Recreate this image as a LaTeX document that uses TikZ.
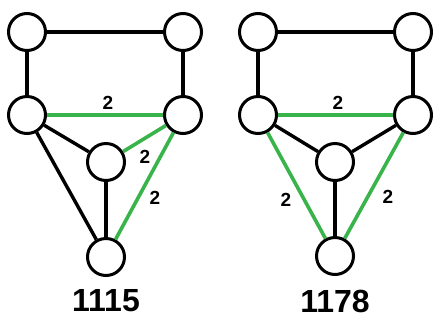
\documentclass[tikz,border=0pt]{standalone}
\usepackage{fontspec}
\setmainfont{Liberation Sans}
\definecolor{edgegreen}{RGB}{56,180,74}
\begin{document}
\begin{tikzpicture}[x=1pt,y=-1pt,
  vert/.style={circle,draw=black,line width=3pt,minimum size=37pt,inner sep=0pt,fill=white},
  blk/.style={draw=black,line width=3.4pt},
  grn/.style={draw=edgegreen,line width=3.6pt},
  wlab/.style={font=\bfseries\fontsize{19}{19}\selectfont,inner sep=0pt},
  glab/.style={font=\bfseries\fontsize{32}{32}\selectfont,inner sep=0pt}]
\useasboundingbox (0,0) rectangle (433,325);
% left graph
\node[vert] (a1) at (27,32) {};
\node[vert] (a2) at (183,32) {};
\node[vert] (a3) at (27,115) {};
\node[vert] (a4) at (183,115) {};
\node[vert] (a5) at (106,162) {};
\node[vert] (a6) at (106,257) {};
\draw[blk] (a1) -- (a2);
\draw[blk] (a1) -- (a3);
\draw[blk] (a2) -- (a4);
\draw[grn] (a3) -- (a4);
\draw[blk] (a3) -- (a5);
\draw[grn] (a4) -- (a5);
\draw[blk] (a3) -- (a6);
\draw[blk] (a5) -- (a6);
\draw[grn] (a4) -- (a6);
\node[wlab] (la1) at (108,103) {2};
\node[wlab] (la2) at (145,157) {2};
\node[wlab] (la3) at (155,198) {2};
\node[glab] (ta) at (106,301) {1115};
% right graph
\node[vert] (b1) at (258,32) {};
\node[vert] (b2) at (413,32) {};
\node[vert] (b3) at (258,115) {};
\node[vert] (b4) at (413,115) {};
\node[vert] (b5) at (335,162) {};
\node[vert] (b6) at (335,256) {};
\draw[blk] (b1) -- (b2);
\draw[blk] (b1) -- (b3);
\draw[blk] (b2) -- (b4);
\draw[grn] (b3) -- (b4);
\draw[blk] (b3) -- (b5);
\draw[blk] (b4) -- (b5);
\draw[grn] (b3) -- (b6);
\draw[blk] (b5) -- (b6);
\draw[grn] (b4) -- (b6);
\node[wlab] (lb1) at (338,103) {2};
\node[wlab] (lb2) at (286,200) {2};
\node[wlab] (lb3) at (388,197) {2};
\node[glab] (tb) at (335,301) {1178};
\end{tikzpicture}
\end{document}
